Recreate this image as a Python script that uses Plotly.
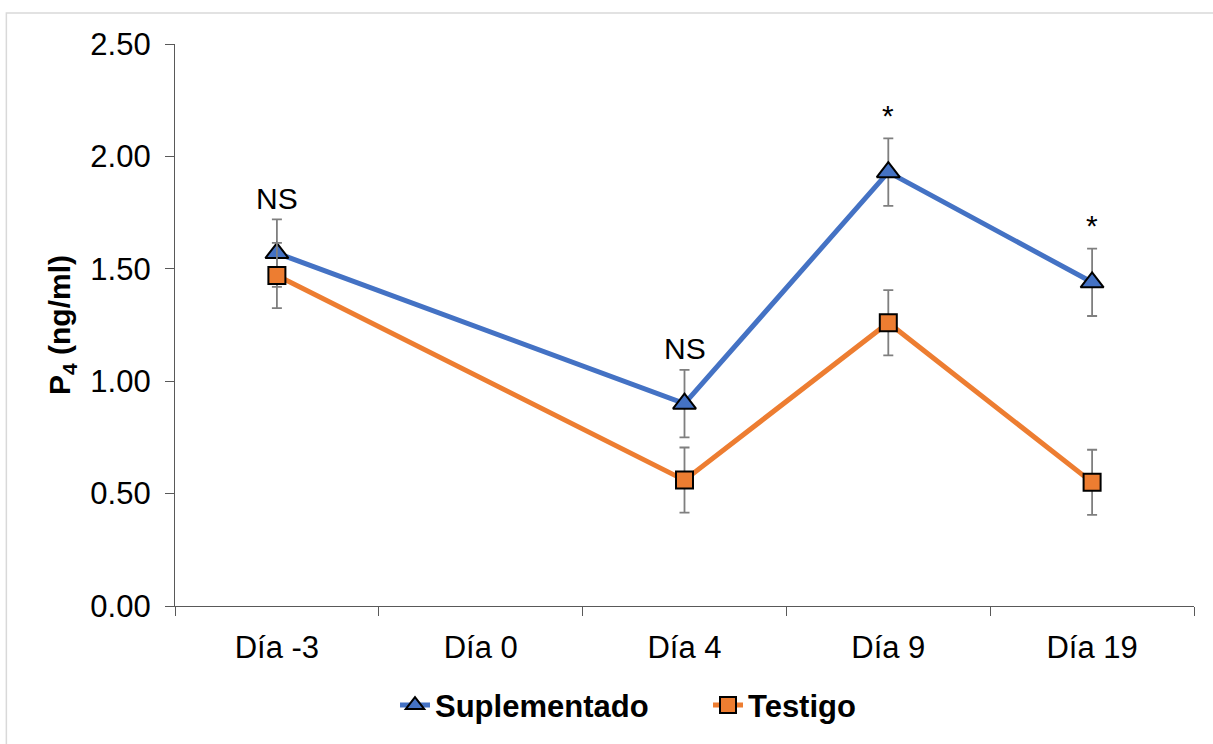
import plotly.graph_objects as go

categories = ["Día -3", "Día 0", "Día 4", "Día 9", "Día 19"]
suplementado = [1.57, None, 0.90, 1.93, 1.44]
suplementado_err = [0.15, None, 0.15, 0.15, 0.15]
testigo = [1.47, None, 0.56, 1.26, 0.55]
testigo_err = [0.145, None, 0.145, 0.145, 0.145]
signif_labels = ["NS", "", "NS", "*", "*"]

FONT = "Liberation Sans, Arial, sans-serif"
BLUE = "#4472C4"
ORANGE = "#ED7D31"
ERRC = "#7F7F7F"

fig = go.Figure()
fig.add_trace(go.Scatter(
    x=categories, y=suplementado, name="Suplementado", mode="lines+markers",
    connectgaps=True,
    line=dict(color=BLUE, width=5),
    marker=dict(symbol="triangle-up", size=20, color=BLUE, line=dict(color="black", width=2)),
    error_y=dict(type="data", array=suplementado_err, visible=True, color=ERRC, thickness=1.8, width=5),
))
fig.add_trace(go.Scatter(
    x=categories, y=testigo, name="Testigo", mode="lines+markers",
    connectgaps=True,
    line=dict(color=ORANGE, width=5),
    marker=dict(symbol="square", size=17, color=ORANGE, line=dict(color="black", width=2)),
    error_y=dict(type="data", array=testigo_err, visible=True, color=ERRC, thickness=1.8, width=5),
))

for cat, lab, v, e in zip(categories, signif_labels, suplementado, suplementado_err):
    if not lab or v is None:
        continue
    fig.add_annotation(
        x=cat, y=v + e, text=lab, showarrow=False,
        yanchor="middle", yshift=21 if lab != "*" else 23,
        font=dict(family=FONT, size=30, color="black"),
    )

fig.add_shape(type="rect", xref="paper", yref="paper",
              x0=-0.1655, x1=1.06, y0=-0.35, y1=1.055,
              line=dict(color="#D9D9D9", width=1.5), fillcolor="rgba(0,0,0,0)", layer="below")

fig.update_layout(
    width=1213, height=744,
    margin=dict(l=175, r=19, t=44, b=136),
    paper_bgcolor="white", plot_bgcolor="white",
    font=dict(family=FONT, size=31, color="black"),
    showlegend=True,
    legend=dict(orientation="h", x=0.2159, xanchor="left", y=-0.177, yanchor="middle",
                font=dict(family=FONT, size=31, color="black", weight="bold"),
                entrywidth=268, entrywidthmode="pixels",
                bgcolor="rgba(0,0,0,0)"),
    xaxis=dict(
        type="category", categoryorder="array", categoryarray=categories,
        range=[-0.5, 4.5], tickson="boundaries",
        showline=True, linecolor="#595959", linewidth=1.3,
        ticks="outside", ticklen=9, tickcolor="#595959", tickwidth=1.3,
        showgrid=False, zeroline=False,
        ticklabelstandoff=14,
        tickfont=dict(family=FONT, size=31, color="black"),
    ),
    yaxis=dict(
        range=[0, 2.5], dtick=0.5, tick0=0, tickformat=".2f",
        showline=True, linecolor="#595959", linewidth=1.3,
        ticks="outside", ticklen=9, tickcolor="#595959", tickwidth=1.3,
        showgrid=False, zeroline=False,
        tickfont=dict(family=FONT, size=31, color="black"),
        ticklabelstandoff=8,
        title=dict(text="<b>P<sub>4</sub> (ng/ml)</b>", standoff=10,
                   font=dict(family=FONT, size=30, color="black")),
    ),
)

fig.write_html("out.html", config={"displayModeBar": False},
               post_script="document.body.style.margin='0';document.body.style.overflow='hidden';")
